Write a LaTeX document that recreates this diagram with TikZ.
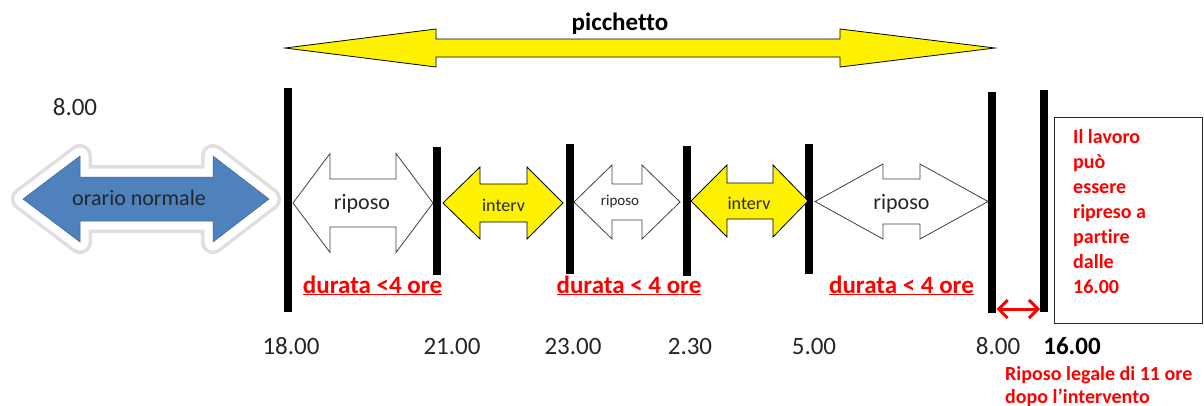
\documentclass[tikz,border=0pt]{standalone}
\usepackage{fontspec}
\setmainfont{Carlito}[Ligatures=CommonOff]
\usetikzlibrary{arrows.meta}
\definecolor{obl}{HTML}{4F81BD}
\definecolor{ored}{HTML}{FF0000}
\newcommand\dblarr[8]{\draw[#1] (#2,#6) -- (#4,#6-#7) -- (#4,#6-#8) -- (#5,#6-#8) -- (#5,#6-#7) -- (#3,#6) -- (#5,#6+#7) -- (#5,#6+#8) -- (#4,#6+#8) -- (#4,#6+#7) -- cycle;}
\tikzset{
  tlabel/.style={font=\fontsize{25}{30}\selectfont, text=black!85, inner sep=0},
  durata/.style={font=\fontsize{25}{30}\selectfont\bfseries, text=ored, inner sep=0, anchor=base},
  redtxt/.style={font=\fontsize{20}{25}\selectfont\bfseries, text=ored, inner sep=0, align=left},
  bar/.style={line width=8pt, black},
  yarr/.style={fill=yellow, draw=black, line width=0.8pt, line join=miter},
  warr/.style={fill=white, draw=black!75, line width=0.8pt},
  atext/.style={text=black!85, inner sep=0},
}
\begin{document}
\begin{tikzpicture}[x=1pt, y=-1pt]
\useasboundingbox (0,0) rectangle (1204,405);
% picchetto arrow
\dblarr{yarr}{285}{995}{436}{840}{48}{19}{9}
\node[font=\fontsize{25}{30}\selectfont\bfseries, inner sep=0] (picc) at (620,24) {picchetto};
% top left time
\node[tlabel] (t8a) at (75,107) {8.00};
% blue arrow with glow
\dblarr{draw=gray!25, line width=24pt, line join=round}{23}{269}{80}{213}{199}{43}{22}
\dblarr{draw=white, line width=17pt, line join=round}{23}{269}{80}{213}{199}{43}{22}
\dblarr{fill=obl, draw=obl!80!black, line width=0.5pt}{23}{269}{80}{213}{199}{43}{22}
\node[atext, font=\fontsize{22}{26}\selectfont] (orn) at (139,198) {orario normale};
% bars
\draw[bar] (287.5,88) -- (287.5,312);
\draw[bar] (436.5,147) -- (436.5,275);
\draw[bar] (569.5,144) -- (569.5,274);
\draw[bar] (687,146) -- (687,276);
\draw[bar] (809,144) -- (809,274);
\draw[bar] (992,92) -- (992,313);
\draw[bar] (1044,90) -- (1044,312);
% arrows between bars
\dblarr{warr}{293}{433}{330}{396}{203}{49.5}{24}
\node[atext, font=\fontsize{22}{26}\selectfont] (rip1) at (362,204) {riposo};
\dblarr{yarr}{443}{563}{480}{527}{203}{36}{19}
\node[atext, font=\fontsize{18}{22}\selectfont] (int1) at (503.5,205) {interv};
\dblarr{warr}{574}{680}{612}{642}{202}{37}{18}
\node[atext, font=\fontsize{15}{18}\selectfont] (rip2) at (620,202) {riposo};
\dblarr{yarr}{691}{808}{727}{773}{201}{36}{18}
\node[atext, font=\fontsize{18}{22}\selectfont] (int2) at (749,203) {interv};
\dblarr{warr}{815}{988}{883}{920}{201.5}{37.5}{22.5}
\node[atext, font=\fontsize{22}{26}\selectfont] (rip3) at (901.5,204) {riposo};
% durata labels
\node[durata] (d1) at (372.5,293) {\underline{durata <4 ore}};
\node[durata] (d2) at (629,293) {\underline{durata < 4 ore}};
\node[durata] (d3) at (901.5,293) {\underline{durata < 4 ore}};
% times
\node[tlabel] (t18) at (291,346) {18.00};
\node[tlabel] (t21) at (452,346) {21.00};
\node[tlabel] (t23) at (573,346) {23.00};
\node[tlabel] (t230) at (690,346) {2.30};
\node[tlabel] (t5) at (814,346) {5.00};
\node[tlabel] (t8b) at (998,346) {8.00};
\node[tlabel, font=\fontsize{25}{30}\selectfont\bfseries, text=black] (t16) at (1072,346) {16.00};
% red rest arrow
\coordinate (ra1) at (996.5,309);
\coordinate (ra2) at (1040,309);
\draw[ored, line width=3pt, {Straight Barb[length=9pt,width=18pt]}-{Straight Barb[length=9pt,width=18pt]}] (ra1) -- (ra2);
% box
\node[draw=black!85, line width=1pt, minimum width=148pt, minimum height=206pt, anchor=north west, inner sep=0] (box) at (1054,117) {};
\node[redtxt, anchor=north west] (boxtxt) at (1073,129) {Il lavoro\\può\\essere\\ripreso a\\partire\\dalle\\16.00};
\node[redtxt, font=\fontsize{20}{23}\selectfont\bfseries, anchor=north west] (rl) at (1005,366) {Riposo legale di 11 ore\\dopo l’intervento};
\end{tikzpicture}
\end{document}
